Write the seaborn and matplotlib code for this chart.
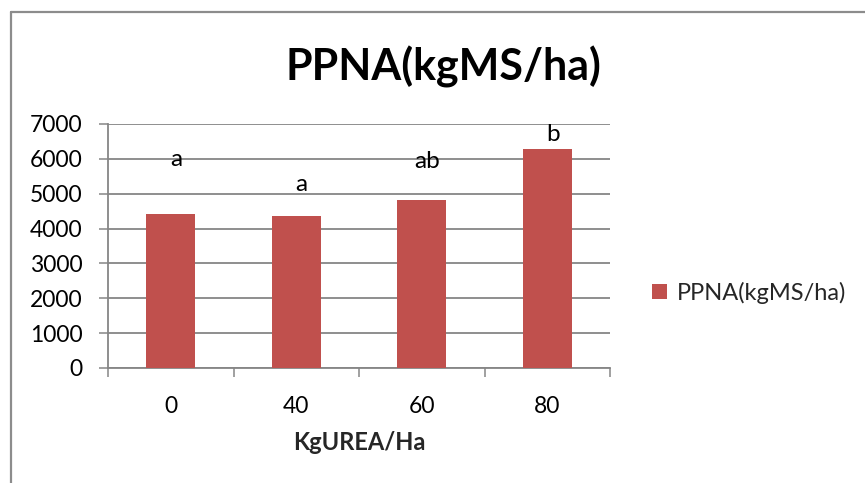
import matplotlib
matplotlib.use("Agg")
import matplotlib.pyplot as plt
from matplotlib.lines import Line2D
from matplotlib.patches import Patch
import seaborn as sns
import pandas as pd

categories = ["0", "40", "60", "80"]
ppna = [4410, 4370, 4820, 6280]
letters = ["a", "a", "ab", "b"]
letter_y = [5800, 5090, 5750, 6520]
yticks = [0, 1000, 2000, 3000, 4000, 5000, 6000, 7000]

sns.set_theme(style="white")
plt.rcParams['font.family'] = ['Lato', 'DejaVu Sans']

W, H = 865, 483
fig = plt.figure(figsize=(W / 100, H / 100), dpi=100)
ax = fig.add_axes([108 / W, 1 - 368 / H, (610 - 108) / W, (368 - 124) / H])

df = pd.DataFrame({"dose": categories, "ppna": ppna})
bar_color = "#C0504D"
sns.barplot(data=df, x="dose", y="ppna", color=bar_color, width=0.39,
            saturation=1, ax=ax, zorder=3, linewidth=0)

grid_c = "#868686"
ax.set_ylim(0, 7000)
ax.set_xlim(-0.5, len(categories) - 0.5)
ax.set_yticks(yticks)
ax.set_yticklabels([str(v) for v in yticks], fontsize=16.5, color="#000000")
ax.yaxis.grid(True, color=grid_c, linewidth=1.3, zorder=0)
ax.set_axisbelow(True)
ax.tick_params(axis="y", length=6.5, width=1.1, color=grid_c, direction="out",
               left=True, pad=12)
ax.tick_params(axis="x", which="major", length=0, pad=20, labelsize=16.5,
               labelcolor="#000000")
ax.set_xticks(range(len(categories)))
ax.set_xticklabels(categories)
ax.set_xticks([i - 0.5 for i in range(len(categories) + 1)], minor=True)
ax.tick_params(axis="x", which="minor", length=6.5, width=1.1, color=grid_c,
               direction="out", bottom=True)

for s in ["top", "right"]:
    ax.spines[s].set_visible(False)
for s in ["left", "bottom"]:
    ax.spines[s].set_color(grid_c)
    ax.spines[s].set_linewidth(1.3)

ax.set_xlabel("KgUREA/Ha", fontsize=17, fontweight="bold", labelpad=10)
ax.set_ylabel("")

for i, (lab, yv) in enumerate(zip(letters, letter_y)):
    ax.annotate(lab, xy=(i, yv), xytext=(4, 0), textcoords="offset points",
                ha="center", va="baseline", fontsize=17.5, color="#000000")

fig.text(443 / W, 1 - 80 / H, "PPNA(kgMS/ha)", ha="center", va="baseline",
         fontsize=31, fontweight="bold", color="#000000")

handles = [Patch(facecolor=bar_color, edgecolor="none")]
ax.legend(handles, ["PPNA(kgMS/ha)"], loc="center left",
          bbox_to_anchor=(652 / W, 1 - 293 / H), bbox_transform=fig.transFigure,
          frameon=False, fontsize=17, handlelength=0.62, handleheight=0.62,
          handletextpad=0.45, borderaxespad=0, borderpad=0)

border_c = "#8c8c8c"
fig.add_artist(Line2D([11 / W, 1], [1 - 12 / H, 1 - 12 / H], color=border_c,
                      linewidth=1.6, transform=fig.transFigure))
fig.add_artist(Line2D([11 / W, 11 / W], [0, 1 - 12 / H], color=border_c,
                      linewidth=1.6, transform=fig.transFigure))

fig.savefig("out.png", dpi=100)
